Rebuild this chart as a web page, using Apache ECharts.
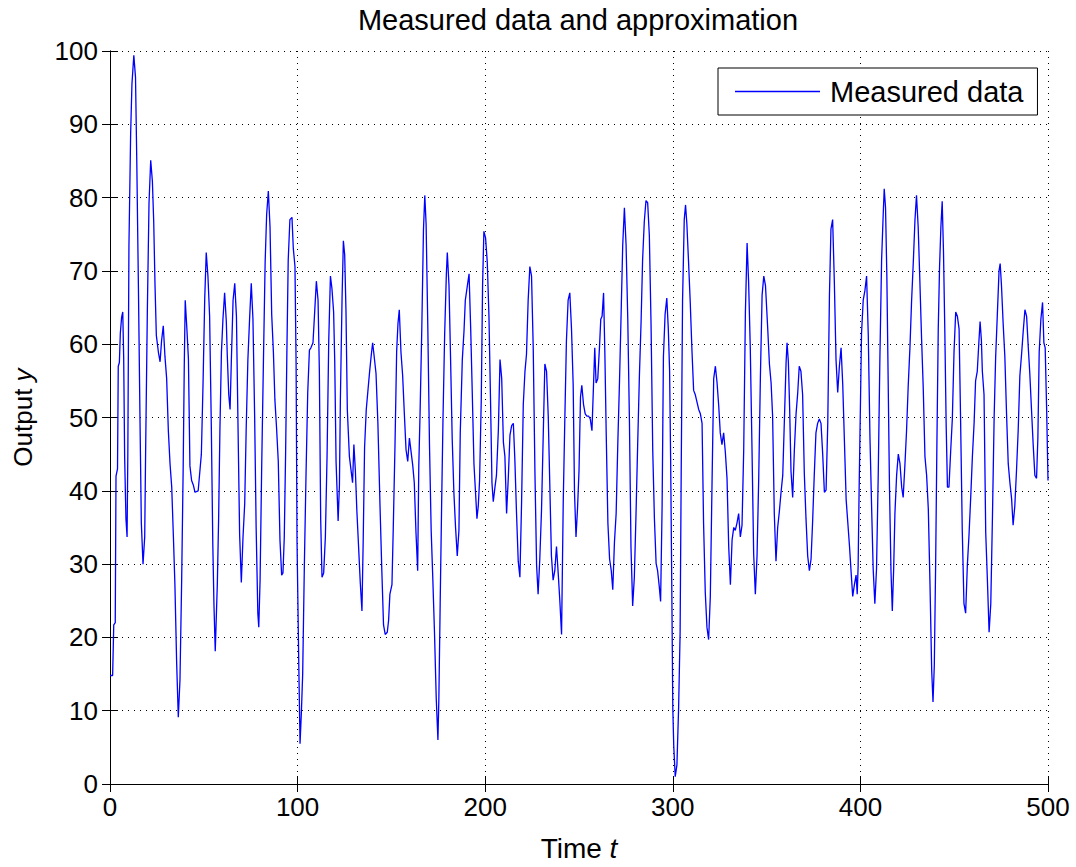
<!DOCTYPE html>
<html>
<head>
<meta charset="utf-8">
<script src="https://cdn.jsdelivr.net/npm/echarts@6/dist/echarts.min.js"></script>
<style>
html,body{margin:0;padding:0;background:#fff;}
#chart{width:1076px;height:867px;}
</style>
</head>
<body>
<div id="chart"></div>
<script>
const chartTitle = 'Measured data and approximation';
const seriesName = 'Measured data';
const xTicks = [0, 100, 200, 300, 400, 500];
const yTicks = [0, 10, 20, 30, 40, 50, 60, 70, 80, 90, 100];

const timeT = [
0,1.4,2,2.8,3.2,4,4.4,5,5.5,6.2,
6.8,7.3,7.8,8.5,9.1,9.5,10.1,11,11.7,12.7,
13.6,14.3,15.2,16,16.7,17.6,18.5,19,19.9,20.8,
21.7,22.6,23.3,24,24.7,25.8,26.7,27.5,28.4,29.3,
30.2,31.1,32,32.9,33.8,34.6,35.5,36.4,37.3,38.2,
39,39.6,40.1,41,41.8,42.6,43.5,44.4,45.3,47,
48.7,49.6,50.5,51.3,52.2,53.1,54,54.8,55.4,56.1,
57.2,57.9,58.6,59.4,60.2,61.1,62,62.5,63.3,64,
64.7,65.6,66.5,67.4,68.2,69.1,70,70.9,71.8,72.6,
73.5,74.4,75.3,76.2,77.1,77.9,78.8,79.3,80,80.9,
81.8,82.7,83.5,84.4,85.3,86.2,87.1,87.9,88.8,89.7,
90.6,91.5,92.2,92.9,93.6,94.3,95,95.9,97,97.7,
98.6,99.2,99.7,100.6,101.3,102,102.7,103.6,104.5,105.4,
106.3,107.1,108.2,109.1,110,110.9,111.6,112.3,113,113.9,
114.8,115.7,116.6,117.5,118.3,119.2,119.8,120.5,121.6,122.3,
122.8,123.7,124.4,125.1,125.8,126.5,127.6,128.4,129.3,130,
130.8,131.6,132.5,133.4,134.3,135,135.7,136.6,137.5,138.4,
139.3,140,140.7,141.8,142.8,143.9,144.9,145.8,146.7,147.8,
148.5,149.2,150.3,151,151.9,152.8,153.5,154.2,155.1,156,
156.9,157.8,158.7,159.6,160.5,161.4,162.2,163.1,164,164.6,
165.3,166.2,167.1,167.8,168.5,169.4,170.3,171.2,172.1,173,
173.9,174.8,175.3,176,176.8,177.5,178.4,179.3,179.8,180.7,
181.6,182.4,183.3,184.2,185.1,186,186.7,187.8,188.7,189.4,
190.5,191.4,192.3,193.1,194,194.9,195.6,196.3,197,197.9,
198.6,199.3,200.2,201.1,202,202.9,203.6,204.3,205.2,206,
207,207.9,208.8,209.7,210.5,211.4,212.3,213.2,214.1,215,
215.8,216.7,217.6,218.5,219.4,220.3,221.2,222,222.9,223.8,
224.7,225.6,226.5,227.4,228.2,229.1,230,230.9,231.8,232.7,
233.6,234.5,235.3,236.2,237.1,238,238.9,239.8,240.7,241.6,
242.4,243.3,244.2,245.1,246,246.9,247.6,248.4,249.2,250,
250.8,251.5,252.4,253.3,254.2,255.1,256,256.9,257.6,258.4,
259.1,260,260.9,261.6,262.3,263.1,263.8,264.5,265.4,266.3,
267.2,268,268.9,269.8,270.7,271.6,272.5,273.3,274.2,275.1,
276,276.9,277.7,278.6,279.5,280.4,281.3,282.2,283.1,283.9,
284.8,285.7,286.6,287.5,288.4,289.3,290.2,291.1,291.9,292.8,
293.5,294.3,295,295.9,296.8,297.6,298.3,298.9,299.4,300,
300.5,301.3,302.2,303.1,303.9,304.5,305.2,306.1,306.8,307.5,
308.4,309.3,310.2,311.1,312,312.9,313.8,314.7,315.6,316.4,
317.3,318.2,319.1,320,320.9,321.8,322.7,323.6,324.5,325.3,
326.2,327.1,328,328.9,329.8,330.7,331.6,332.5,333.3,334.2,
335.1,336,336.9,337.8,338.7,339.6,340.4,341.3,342.2,343.1,
344,344.9,345.8,346.7,347.6,348.5,349.4,350.6,351.5,352.4,
353.2,354.1,355,355.9,356.8,357.7,358.6,359.5,360.4,360.9,
361.6,362.3,363,363.9,364.8,365.7,366.6,367.4,368.3,369.2,
370.1,371,371.9,372.8,373.7,374.5,375.4,376.3,377.2,378.1,
379,379.9,380.8,381.7,382.6,383.5,384.3,385.2,386.1,387,
387.9,388.8,389.7,390.6,391.5,392.4,393.3,394.2,395,395.9,
396.8,397.7,398.3,398.8,399.3,399.9,400.6,401.5,402.4,403.3,
404.2,405.1,406,406.8,407.7,408.6,409.5,410.4,411.3,412.2,
412.7,413.4,414.1,414.8,415.5,416.3,417,417.7,418.4,419.3,
420.2,421.1,422,422.8,423.7,424.6,425.5,426.4,427.3,428.2,
429.1,429.9,430.8,431.7,432.6,433.5,434.4,435.3,436.2,437.1,
438,438.7,439.4,440.1,440.8,441.5,442.2,442.9,443.6,444.3,
445,445.7,446.4,447.2,448.1,449,449.9,450.8,451.7,452.6,
453.4,454.3,455.2,456.1,457,457.9,458.8,459.7,460.6,461.4,
462.3,463.2,463.8,464.5,465,465.9,466.8,467.7,468.6,469.5,
470.4,471.3,472.1,473,473.9,474.5,475.2,476.1,477,477.9,
478.8,479.7,480.6,481.4,482.3,483.2,484.1,485,485.9,486.8,
487.7,488.6,489.5,490.3,491.2,492.1,493,493.9,494.6,495.3,
496.2,497.1,497.8,498.5,499.3,500
];

const outputY = [
14.8,14.8,21.7,22,42,43,57,57.5,61.5,63.7,
64.4,58,44.7,36.2,33.7,45,73.5,88.7,95.5,99.4,
96.4,84.5,66.7,49.5,35.6,30,33.7,45.6,64.4,79.3,
85.1,82.2,76.7,68,61.2,58.9,57.6,60.5,62.5,58.3,
55.3,48.2,43.7,40.5,33.7,27.2,16.8,9.1,14.2,27.8,
43,57.3,66,62,58,43.4,41.4,40.8,39.8,40,
45,54.7,66.3,72.5,69.3,63.8,48.9,32.7,24.6,18.1,
27.2,36.2,48.5,58.9,63.4,67,63.1,58.6,53.1,51.1,
57.9,66,68.3,63.8,49.5,34,27.5,33.7,38.2,48.5,
57.9,63.4,68.3,63.4,50.2,35,23.3,21.4,27.8,44,
57.9,71.2,77.7,80.9,76,64,58.9,52.4,48.5,44,
33.3,28.5,28.8,33.7,45,59.2,71.5,77,77.3,73.1,
70.6,57.3,33,16.8,5.5,9.7,14.9,29.8,42.4,53.4,
59.2,59.5,60.2,64.4,68.6,66,56.3,36.2,28.2,28.8,
33.7,44.7,60.5,69.3,67.6,64.4,57.6,44,35.9,40.8,
52.4,66.3,74.1,72.2,64.4,51.1,44.7,43,41.1,46.3,
42.7,37.2,32.4,27.5,23.6,33.7,45.9,51.1,53.7,56.3,
58.6,60.2,58.6,56,49.2,38.2,29.1,21.7,20.4,20.7,
22.3,25.9,27.2,35,46,59,62.8,64.7,58.9,55.7,
50.5,45.6,44,47.2,45.3,43.4,41.1,34.3,29.1,43.4,
50.8,62.1,75.7,80.3,76.4,62.5,46.3,34.6,27.8,20.4,
11.7,6,11.7,24.6,38.5,49.8,61.5,69.6,72.5,68,
57.3,47.2,39.8,35,31.1,34.6,47.9,57.9,61.8,66,
68,69.6,61.8,53.4,43.7,39.5,36.2,37.9,41.4,52.4,
68,75.4,74.5,71.2,63.8,51.5,41.1,38.5,40.5,42.1,
48.2,57.9,55.3,46.6,44.7,36.9,41.7,47.6,48.9,49.2,
44.3,36.9,30.4,28.2,38.5,51.8,56.3,58.6,66,70.6,
69.3,59.5,42.7,29.8,25.9,30.7,37.2,47.2,57.3,56.3,
50.2,40.1,31.1,27.8,29.1,32.4,28.8,24.9,20.4,38.5,
49.2,60.5,66,67,62.1,54.4,39.8,33.7,37.5,42.7,
52.8,54.4,51.8,50.5,50.2,50.2,49.8,48.2,53.4,59.5,
54.7,55.3,59.5,63.4,63.8,67,58.6,47.9,35.6,30.7,
29.1,26.5,33,36.9,46.6,55,64.7,73.5,78.6,73.5,
63.4,49.2,32.4,24.3,28.2,36.9,46.6,55.7,63.1,71.5,
76.7,79.6,79.3,74.8,62.8,45.6,36.2,30.1,29.1,26.9,
24.9,37.9,58.3,64.1,66.3,62.1,56.3,43,28.5,10.4,
5.2,1,2.6,10.4,20.7,43.4,66,77,79,76.4,
71.2,65.7,59.2,53.7,53.1,52.1,51.1,50.5,49.2,35.6,
26.2,21.4,19.7,25.6,40.8,55.3,57,54.7,51.5,47.9,
46.3,47.9,45.3,41.7,32.4,27.2,33.3,35,34.6,35.6,
36.9,33.7,35.3,45.6,64.4,73.8,68.6,59.5,46,31.4,
25.9,31.1,41.7,55.7,66.7,69.3,68,62.1,57.3,54.7,
50.2,36.9,30.4,35,37.2,39.8,42.1,49.8,57.6,60.2,
57.6,51.1,42.7,39.1,45.6,50.5,53.4,57,56.3,53.1,
42.4,36.2,31.1,29.1,30.7,35.6,42.1,47.9,49.2,49.8,
49.2,45,39.8,40.1,49.2,66.7,75.7,77,68.6,57.9,
53.4,57,59.5,54.4,46.6,38.8,35.6,32.4,29.1,25.6,
27.2,28.5,25.9,29.8,39.8,49.8,61.5,66,67.3,69.3,
61.2,47.2,37.5,29.4,24.6,29.4,42.1,58.3,71.5,78,
81.2,78.6,69.3,55,40.5,29.1,23.6,29.1,36.9,42.1,
45,43.7,40.5,39.1,43.4,48.2,54.4,59.5,66,71.2,
77,80.3,76,68.6,60.8,54,44.7,42.1,37.5,27.2,
15.5,11.2,16.2,29.8,46.9,62.1,70.6,76,79.5,72.5,
61.8,49.2,40.5,40.5,45.3,49.8,58.9,64.4,63.8,62.1,
49.8,34.6,24.6,23.3,29.8,34,39.1,44.7,49.2,55,
56.3,60.5,63.1,60.5,56.3,53.1,34.3,27.8,20.7,24.6,
36.6,50.2,58.3,64.1,70,71,68,62.8,58.3,50.5,
43.7,41.1,38.9,35.3,37.9,42.7,48.2,55.7,58.6,61.8,
64.7,63.8,59.5,56,51.1,46.3,42.1,41.7,47.2,58.9,
63.4,65.7,60.2,59.5,50.8,41.4
];

const FONT = 'Liberation Sans, Arial, Helvetica, sans-serif';
const n = Math.min(timeT.length, outputY.length);
const lineData = [];
for (let i = 0; i < n; i++) lineData.push([timeT[i], outputY[i]]);

const chart = echarts.init(document.getElementById('chart'), null, {renderer: 'svg'});

const axisLineStyle = {show: true, lineStyle: {color: '#000', width: 1}};
const tickStyle = {show: true, inside: true, length: 8, lineStyle: {color: '#000', width: 1}};
const gridLineStyle = {show: true, lineStyle: {color: '#000', width: 1, type: [1, 5]}};

chart.setOption({
  animation: false,
  backgroundColor: '#fff',
  textStyle: {fontFamily: FONT},
  title: {
    text: chartTitle,
    left: 578,
    textAlign: 'center',
    top: 5,
    padding: 0,
    textStyle: {fontFamily: FONT, fontSize: 29, fontWeight: 'normal', color: '#000'}
  },
  legend: {
    left: 718,
    top: 68,
    padding: [9, 14, 9, 17],
    backgroundColor: '#fff',
    borderColor: '#000',
    borderWidth: 1,
    borderRadius: 0,
    itemWidth: 85,
    itemHeight: 1.5,
    itemGap: 5,
    textStyle: {fontFamily: FONT, fontSize: 29, color: '#000', padding: [0, 0, 0, 5]},
    data: [{name: seriesName, icon: 'rect'}]
  },
  grid: {left: 110, right: 28, top: 51, bottom: 71, containLabel: false},
  xAxis: [{
    type: 'value', min: xTicks[0], max: xTicks[xTicks.length - 1], interval: 100,
    position: 'bottom',
    axisLine: axisLineStyle, axisTick: tickStyle,
    axisLabel: {color: '#000', fontSize: 26, fontFamily: FONT, margin: 10},
    splitLine: gridLineStyle,
    name: 'Time {i|t}', nameLocation: 'middle', nameGap: 50,
    nameTextStyle: {color: '#000', fontSize: 28, fontFamily: FONT,
      rich: {i: {fontStyle: 'italic', fontSize: 28, fontFamily: FONT, color: '#000'}}}
  }, {
    type: 'value', min: xTicks[0], max: xTicks[xTicks.length - 1], interval: 100,
    position: 'top',
    axisLine: axisLineStyle, axisTick: tickStyle,
    axisLabel: {show: false}, splitLine: {show: false}
  }],
  yAxis: [{
    type: 'value', min: yTicks[0], max: yTicks[yTicks.length - 1], interval: 10,
    position: 'left',
    axisLine: axisLineStyle, axisTick: tickStyle,
    axisLabel: {color: '#000', fontSize: 26, fontFamily: FONT, margin: 12},
    splitLine: gridLineStyle,
    name: 'Output {i|y}', nameLocation: 'middle', nameGap: 74, nameRotate: 90,
    nameTextStyle: {color: '#000', fontSize: 26, fontFamily: FONT,
      rich: {i: {fontStyle: 'italic', fontSize: 26, fontFamily: FONT, color: '#000'}}}
  }, {
    type: 'value', min: yTicks[0], max: yTicks[yTicks.length - 1], interval: 10,
    position: 'right',
    axisLine: axisLineStyle, axisTick: tickStyle,
    axisLabel: {show: false}, splitLine: {show: false}
  }],
  series: [{
    name: seriesName,
    type: 'line',
    xAxisIndex: 0, yAxisIndex: 0,
    data: lineData,
    showSymbol: false,
    symbol: 'none',
    smooth: false,
    lineStyle: {color: '#0000ff', width: 1.3},
    itemStyle: {color: '#0000ff'},
    emphasis: {disabled: true}
  }]
});
</script>
</body>
</html>
